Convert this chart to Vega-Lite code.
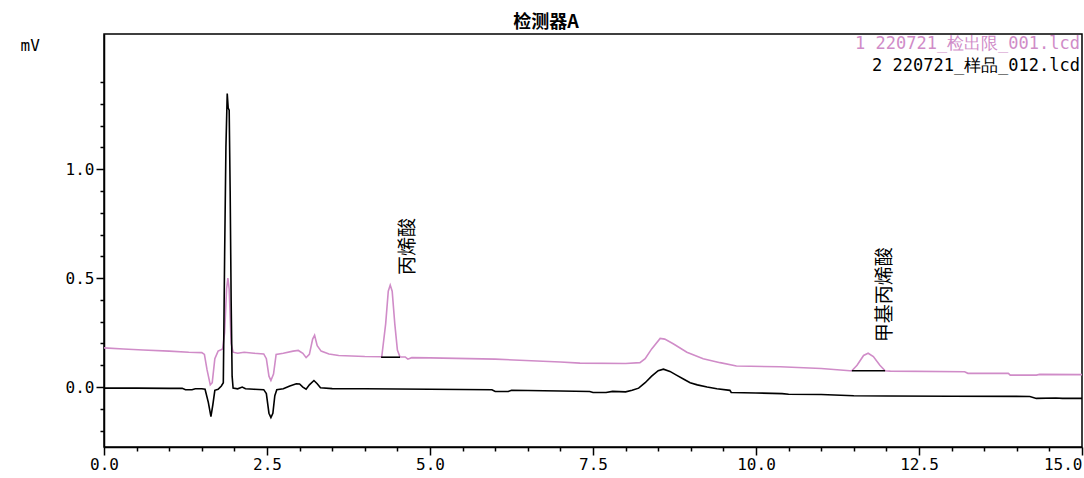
{
  "$schema": "https://vega.github.io/schema/vega-lite/v6.json",
  "width": 978,
  "height": 413,
  "autosize": {"type": "none"},
  "padding": {"left": 104, "top": 34, "right": 2, "bottom": 31},
  "background": "white",
  "config": {
    "view": {"stroke": "black", "strokeWidth": 1.5},
    "axis": {"domainColor": "black", "domainWidth": 1.5, "tickColor": "black", "tickWidth": 1.5, "labelColor": "black", "grid": false, "labelOverlap": false, "labelBound": false, "labelFlush": false}
  },
  "title": {"text": "检测器A", "anchor": "middle", "dx": -47, "offset": 2, "fontSize": 18, "font": "Noto Sans CJK SC", "fontWeight": "bold", "color": "black"},
  "encoding": {
    "x": {"field": "t", "type": "quantitative",
      "scale": {"domain": [0, 15], "nice": false, "zero": false},
      "axis": {
        "title": null,
        "values": [0,0.5,1,1.5,2,2.5,3,3.5,4,4.5,5,5.5,6,6.5,7,7.5,8,8.5,9,9.5,10,10.5,11,11.5,12,12.5,13,13.5,14,14.5,15],
        "labelExpr": "abs(datum.value/2.5 - round(datum.value/2.5)) < 0.001 ? format(datum.value, '.1f') : ''",
        "tickSize": {"condition": {"test": "abs(datum.value/2.5 - round(datum.value/2.5)) < 0.001", "value": 8}, "value": 4},
        "labelAlign": {"condition": {"test": "datum.value >= 15", "value": "right"}, "value": "center"},
        "labelFont": "DejaVu Sans Mono", "labelFontSize": 16, "labelPadding": 1,
        "labelOverlap": false, "labelBound": false, "labelFlush": false
      }
    },
    "y": {"field": "v", "type": "quantitative",
      "scale": {"domain": [-0.275, 1.62], "nice": false, "zero": false},
      "axis": {
        "title": "mV", "titleAngle": 0, "titleX": -84, "titleY": 11, "titleAlign": "left", "titleBaseline": "middle",
        "titleFont": "DejaVu Sans Mono", "titleFontSize": 16, "titleFontWeight": "normal", "titleColor": "black",
        "values": [-0.2,-0.1,0,0.1,0.2,0.3,0.4,0.5,0.6,0.7,0.8,0.9,1,1.1,1.2,1.3,1.4],
        "labelExpr": "abs(datum.value*2 - round(datum.value*2)) < 0.001 ? format(datum.value, '.1f') : ''",
        "tickSize": {"condition": {"test": "abs(datum.value*2 - round(datum.value*2)) < 0.001", "value": 8}, "value": 4},
        "labelFont": "DejaVu Sans Mono", "labelFontSize": 16, "labelPadding": 2,
        "labelOverlap": false, "labelBound": false, "labelFlush": false
      }
    }
  },
  "layer": [
    {
      "data": {"values": [
        {"s":"s1","t":0.0,"v":0.18},{"s":"s1","t":0.3,"v":0.175},{"s":"s1","t":0.6,"v":0.17},{"s":"s1","t":1.0,"v":0.165},{"s":"s1","t":1.3,"v":0.16},{"s":"s1","t":1.5,"v":0.158},{"s":"s1","t":1.54,"v":0.15},{"s":"s1","t":1.58,"v":0.08},{"s":"s1","t":1.63,"v":0.01},{"s":"s1","t":1.66,"v":0.02},{"s":"s1","t":1.7,"v":0.13},{"s":"s1","t":1.75,"v":0.165},{"s":"s1","t":1.82,"v":0.175},{"s":"s1","t":1.85,"v":0.25},{"s":"s1","t":1.88,"v":0.45},{"s":"s1","t":1.9,"v":0.5},{"s":"s1","t":1.92,"v":0.45},{"s":"s1","t":1.95,"v":0.2},{"s":"s1","t":1.98,"v":0.16},{"s":"s1","t":2.05,"v":0.155},{"s":"s1","t":2.15,"v":0.16},{"s":"s1","t":2.3,"v":0.155},{"s":"s1","t":2.45,"v":0.152},{"s":"s1","t":2.49,"v":0.13},{"s":"s1","t":2.53,"v":0.05},{"s":"s1","t":2.56,"v":0.03},{"s":"s1","t":2.6,"v":0.06},{"s":"s1","t":2.64,"v":0.15},{"s":"s1","t":2.75,"v":0.155},{"s":"s1","t":2.9,"v":0.165},{"s":"s1","t":2.98,"v":0.168},{"s":"s1","t":3.05,"v":0.155},{"s":"s1","t":3.1,"v":0.135},{"s":"s1","t":3.15,"v":0.15},{"s":"s1","t":3.2,"v":0.22},{"s":"s1","t":3.23,"v":0.238},{"s":"s1","t":3.27,"v":0.19},{"s":"s1","t":3.33,"v":0.165},{"s":"s1","t":3.45,"v":0.152},{"s":"s1","t":3.6,"v":0.145},{"s":"s1","t":4.0,"v":0.14},{"s":"s1","t":4.26,"v":0.139},{"s":"s1","t":4.32,"v":0.29},{"s":"s1","t":4.36,"v":0.44},{"s":"s1","t":4.39,"v":0.468},{"s":"s1","t":4.42,"v":0.44},{"s":"s1","t":4.46,"v":0.29},{"s":"s1","t":4.5,"v":0.17},{"s":"s1","t":4.54,"v":0.138},{"s":"s1","t":4.62,"v":0.138},{"s":"s1","t":4.66,"v":0.128},{"s":"s1","t":4.72,"v":0.135},{"s":"s1","t":5.0,"v":0.134},{"s":"s1","t":6.0,"v":0.128},{"s":"s1","t":7.0,"v":0.115},{"s":"s1","t":7.3,"v":0.11},{"s":"s1","t":8.0,"v":0.108},{"s":"s1","t":8.22,"v":0.112},{"s":"s1","t":8.3,"v":0.13},{"s":"s1","t":8.4,"v":0.175},{"s":"s1","t":8.53,"v":0.223},{"s":"s1","t":8.6,"v":0.22},{"s":"s1","t":8.73,"v":0.199},{"s":"s1","t":8.94,"v":0.16},{"s":"s1","t":9.19,"v":0.13},{"s":"s1","t":9.45,"v":0.112},{"s":"s1","t":9.7,"v":0.097},{"s":"s1","t":10.37,"v":0.093},{"s":"s1","t":11.0,"v":0.085},{"s":"s1","t":11.44,"v":0.075},{"s":"s1","t":11.47,"v":0.075},{"s":"s1","t":11.55,"v":0.1},{"s":"s1","t":11.65,"v":0.145},{"s":"s1","t":11.72,"v":0.155},{"s":"s1","t":11.8,"v":0.14},{"s":"s1","t":11.9,"v":0.1},{"s":"s1","t":11.98,"v":0.075},{"s":"s1","t":12.06,"v":0.073},{"s":"s1","t":13.2,"v":0.07},{"s":"s1","t":13.25,"v":0.063},{"s":"s1","t":13.87,"v":0.063},{"s":"s1","t":13.9,"v":0.055},{"s":"s1","t":14.3,"v":0.055},{"s":"s1","t":14.35,"v":0.058},{"s":"s1","t":15.0,"v":0.057},
        {"s":"s2","t":0.0,"v":-0.005},{"s":"s2","t":0.5,"v":-0.005},{"s":"s2","t":1.0,"v":-0.006},{"s":"s2","t":1.2,"v":-0.006},{"s":"s2","t":1.25,"v":-0.012},{"s":"s2","t":1.35,"v":-0.012},{"s":"s2","t":1.4,"v":-0.008},{"s":"s2","t":1.5,"v":-0.008},{"s":"s2","t":1.55,"v":-0.01},{"s":"s2","t":1.6,"v":-0.07},{"s":"s2","t":1.64,"v":-0.136},{"s":"s2","t":1.67,"v":-0.08},{"s":"s2","t":1.7,"v":-0.015},{"s":"s2","t":1.75,"v":-0.01},{"s":"s2","t":1.8,"v":0.005},{"s":"s2","t":1.83,"v":0.02},{"s":"s2","t":1.85,"v":0.6},{"s":"s2","t":1.87,"v":1.1},{"s":"s2","t":1.89,"v":1.347},{"s":"s2","t":1.905,"v":1.28},{"s":"s2","t":1.92,"v":1.27},{"s":"s2","t":1.935,"v":0.9},{"s":"s2","t":1.95,"v":0.4},{"s":"s2","t":1.965,"v":0.05},{"s":"s2","t":1.98,"v":-0.005},{"s":"s2","t":2.05,"v":-0.008},{"s":"s2","t":2.12,"v":0.0},{"s":"s2","t":2.17,"v":-0.008},{"s":"s2","t":2.3,"v":-0.01},{"s":"s2","t":2.45,"v":-0.012},{"s":"s2","t":2.49,"v":-0.03},{"s":"s2","t":2.53,"v":-0.12},{"s":"s2","t":2.56,"v":-0.14},{"s":"s2","t":2.59,"v":-0.12},{"s":"s2","t":2.62,"v":-0.04},{"s":"s2","t":2.65,"v":-0.012},{"s":"s2","t":2.75,"v":-0.008},{"s":"s2","t":2.85,"v":0.005},{"s":"s2","t":2.95,"v":0.015},{"s":"s2","t":3.0,"v":0.014},{"s":"s2","t":3.05,"v":0.0},{"s":"s2","t":3.1,"v":-0.01},{"s":"s2","t":3.15,"v":0.01},{"s":"s2","t":3.22,"v":0.03},{"s":"s2","t":3.27,"v":0.015},{"s":"s2","t":3.32,"v":-0.003},{"s":"s2","t":3.5,"v":-0.007},{"s":"s2","t":4.0,"v":-0.008},{"s":"s2","t":5.0,"v":-0.01},{"s":"s2","t":5.95,"v":-0.012},{"s":"s2","t":6.0,"v":-0.02},{"s":"s2","t":6.2,"v":-0.02},{"s":"s2","t":6.25,"v":-0.015},{"s":"s2","t":6.5,"v":-0.016},{"s":"s2","t":7.0,"v":-0.018},{"s":"s2","t":7.45,"v":-0.02},{"s":"s2","t":7.5,"v":-0.025},{"s":"s2","t":7.7,"v":-0.025},{"s":"s2","t":7.8,"v":-0.02},{"s":"s2","t":8.0,"v":-0.022},{"s":"s2","t":8.1,"v":-0.015},{"s":"s2","t":8.2,"v":-0.005},{"s":"s2","t":8.3,"v":0.02},{"s":"s2","t":8.4,"v":0.05},{"s":"s2","t":8.5,"v":0.075},{"s":"s2","t":8.58,"v":0.082},{"s":"s2","t":8.68,"v":0.072},{"s":"s2","t":8.78,"v":0.055},{"s":"s2","t":8.9,"v":0.035},{"s":"s2","t":8.99,"v":0.02},{"s":"s2","t":9.1,"v":0.01},{"s":"s2","t":9.25,"v":0.0},{"s":"s2","t":9.4,"v":-0.008},{"s":"s2","t":9.6,"v":-0.015},{"s":"s2","t":9.62,"v":-0.025},{"s":"s2","t":10.0,"v":-0.027},{"s":"s2","t":10.4,"v":-0.03},{"s":"s2","t":10.5,"v":-0.033},{"s":"s2","t":11.0,"v":-0.034},{"s":"s2","t":11.5,"v":-0.04},{"s":"s2","t":12.0,"v":-0.041},{"s":"s2","t":13.0,"v":-0.042},{"s":"s2","t":14.2,"v":-0.043},{"s":"s2","t":14.3,"v":-0.052},{"s":"s2","t":14.6,"v":-0.05},{"s":"s2","t":14.7,"v":-0.052},{"s":"s2","t":15.0,"v":-0.052}
      ]},
      "mark": {"type": "line", "strokeWidth": 1.6, "interpolate": "linear"},
      "encoding": {
        "color": {"field": "s", "type": "nominal", "scale": {"domain": ["s1", "s2"], "range": ["#d08cc8", "#000000"]}, "legend": null}
      }
    },
    {
      "data": {"values": [
        {"t": 4.25, "t2": 4.54, "v": 0.137},
        {"t": 11.47, "t2": 11.98, "v": 0.075}
      ]},
      "mark": {"type": "rule", "color": "black", "strokeWidth": 1.6},
      "encoding": {
        "x2": {"field": "t2"}
      }
    },
    {
      "data": {"values": [
        {"t": 4.655, "v": 0.514, "label": "丙烯酸"},
        {"t": 11.98, "v": 0.206, "label": "甲基丙烯酸"}
      ]},
      "mark": {"type": "text", "angle": 270, "align": "left", "baseline": "middle", "font": "Noto Sans CJK SC", "fontSize": 19, "color": "black"},
      "encoding": {
        "text": {"field": "label"}
      }
    },
    {
      "data": {"values": [
        {"t": 15, "v": 1.573, "s": "s1", "label": "1 220721_检出限_001.lcd"},
        {"t": 15, "v": 1.472, "s": "s2", "label": "2 220721_样品_012.lcd"}
      ]},
      "mark": {"type": "text", "align": "right", "baseline": "middle", "dx": -2, "font": "DejaVu Sans Mono", "fontSize": 17},
      "encoding": {
        "text": {"field": "label"},
        "color": {"field": "s", "type": "nominal", "legend": null}
      }
    }
  ]
}
